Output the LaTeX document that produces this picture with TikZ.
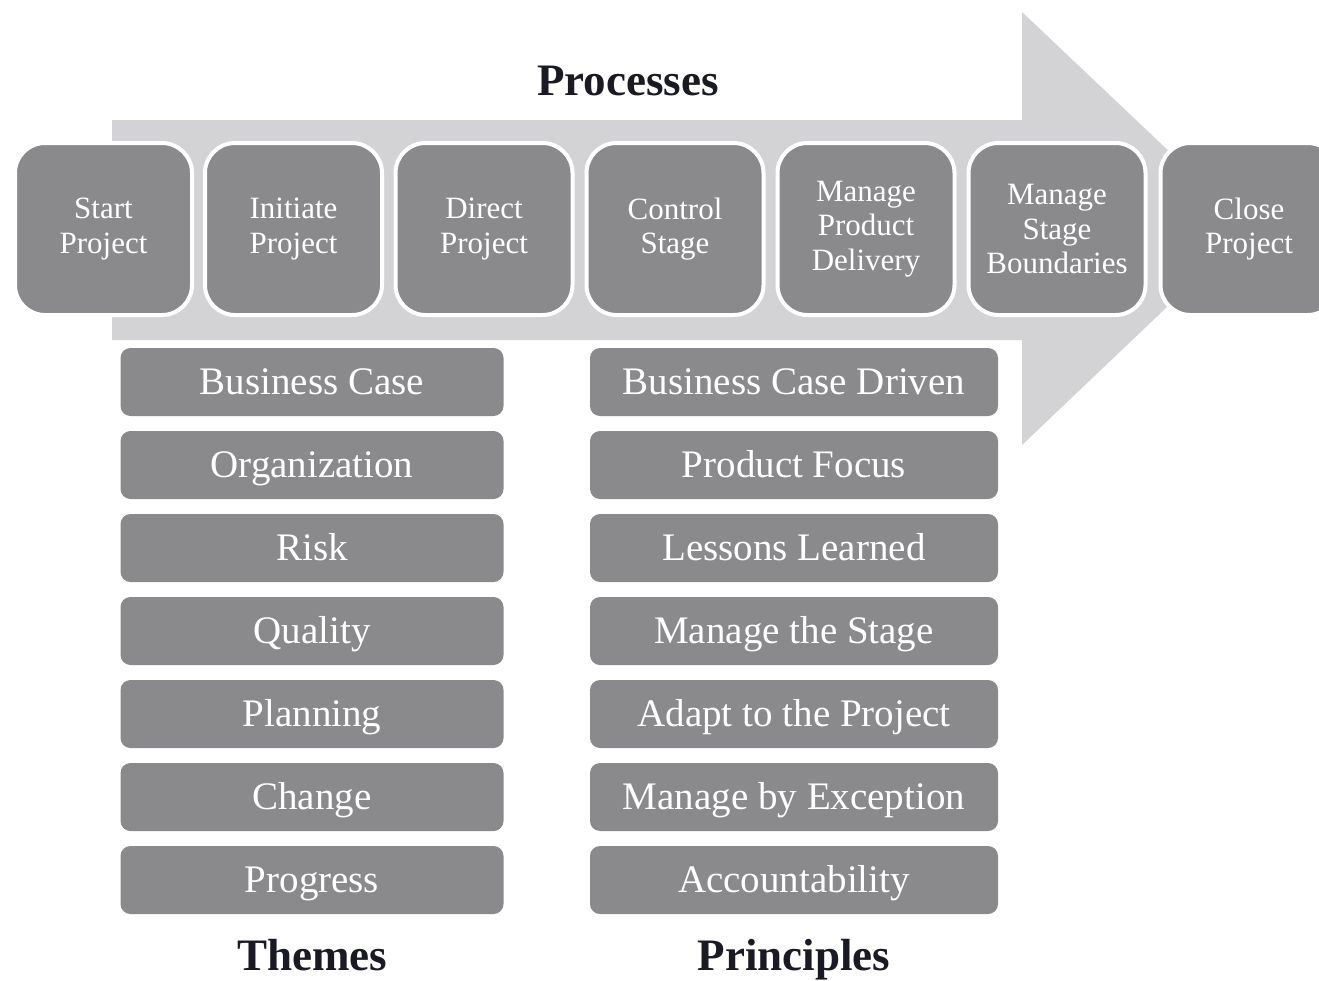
\documentclass[tikz,border=0pt]{standalone}
\usepackage{fontspec}
\setmainfont{Liberation Serif}
\definecolor{boxgray}{HTML}{8A8A8C}
\definecolor{arrowgray}{HTML}{D3D3D5}
\definecolor{titleink}{HTML}{1A1A24}
\begin{document}
\begin{tikzpicture}[x=1pt,y=-1pt,
  procbox/.style={rectangle, rounded corners=30pt, fill=boxgray, draw=white, line width=4pt,
    minimum width=177pt, minimum height=172pt, text=white, align=center, inner sep=0pt,
    font=\fontsize{31}{34.5}\selectfont},
  listbox/.style={rectangle, rounded corners=10pt, fill=boxgray, draw=none,
    minimum height=68pt, text=white, align=center, inner sep=0pt,
    text height=31pt, text depth=7pt,
    font=\fontsize{39}{44}\selectfont},
  themebox/.style={listbox, minimum width=383pt},
  princbox/.style={listbox, minimum width=408pt},
  heading/.style={text=titleink, font=\fontsize{45}{50}\selectfont\bfseries, anchor=base, inner sep=0pt}
]
\useasboundingbox (0,0) rectangle (1319,980);
% big background arrow
\fill[arrowgray] (112,120) -- (1022,120) -- (1022,12) -- (1250,228) -- (1022,445) -- (1022,340) -- (112,340) -- cycle;
% title
\node[heading] (processes) at (628,95) {Processes};
% process boxes
\node[procbox] (p1) at (103.5,229) {Start\\Project};
\node[procbox] (p2) at (293.5,229) {Initiate\\Project};
\node[procbox] (p3) at (484,229) {Direct\\Project};
\node[procbox] (p4) at (675,229) {Control\\Stage};
\node[procbox] (p5) at (866,229) {Manage\\Product\\Delivery};
\node[procbox] (p6) at (1057,229) {Manage\\Stage\\Boundaries};
\node[procbox] (p7) at (1249,229) {Close\\Project};
% themes
\node[themebox] (t1) at (312,382) {Business Case};
\node[themebox] (t2) at (312,465) {Organization};
\node[themebox] (t3) at (312,548) {Risk};
\node[themebox] (t4) at (312,631) {Quality};
\node[themebox] (t5) at (312,714) {Planning};
\node[themebox] (t6) at (312,797) {Change};
\node[themebox] (t7) at (312,880) {Progress};
% principles
\node[princbox] (r1) at (794,382) {Business Case Driven};
\node[princbox] (r2) at (794,465) {Product Focus};
\node[princbox] (r3) at (794,548) {Lessons Learned};
\node[princbox] (r4) at (794,631) {Manage the Stage};
\node[princbox] (r5) at (794,714) {Adapt to the Project};
\node[princbox] (r6) at (794,797) {Manage by Exception};
\node[princbox] (r7) at (794,880) {Accountability};
% footers
\node[heading] (themes) at (312,970) {Themes};
\node[heading] (principles) at (794,970) {Principles};
\end{tikzpicture}
\end{document}
